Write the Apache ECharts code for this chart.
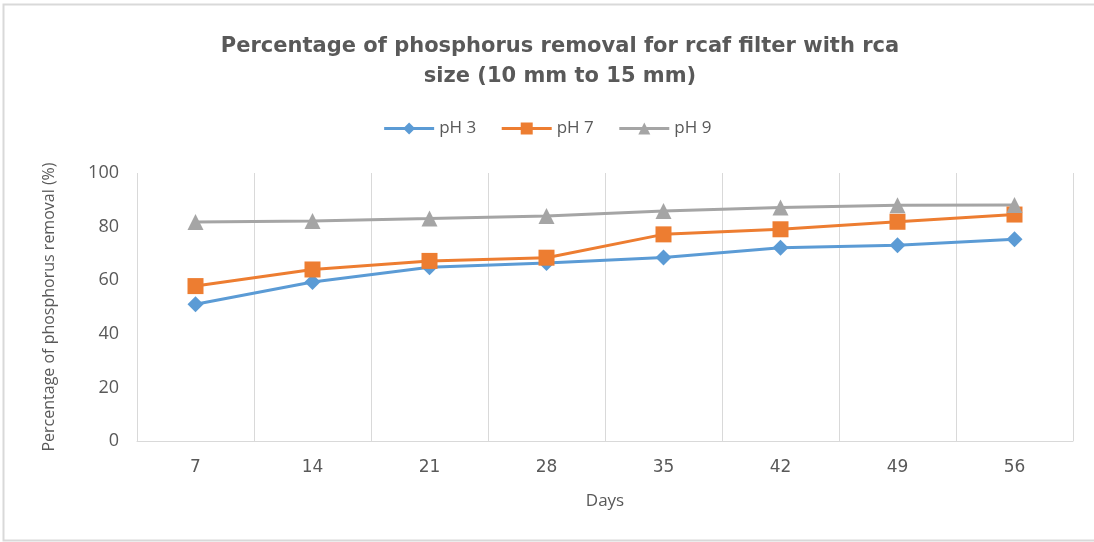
<!DOCTYPE html>
<html>
<head>
<meta charset="utf-8">
<script src="https://cdn.jsdelivr.net/npm/echarts@6/dist/echarts.min.js"></script>
<style>
  html, body { margin: 0; padding: 0; background: #fff; }
  #chart { width: 1094px; height: 542px; }
</style>
</head>
<body>
<div id="chart"></div>
<script>
const days = ['7', '14', '21', '28', '35', '42', '49', '56'];
const ph3 = [51.0, 59.3, 64.8, 66.4, 68.5, 72.1, 73.0, 75.3];
const ph7 = [57.8, 64.0, 67.2, 68.4, 77.1, 79.0, 81.8, 84.5];
const ph9 = [81.7, 82.1, 83.0, 84.0, 85.8, 87.1, 88.0, 88.1];
const yTicks = { min: 0, max: 100, interval: 20 };

const textColor = '#595959';
const gridColor = '#d9d9d9';

const chart = echarts.init(document.getElementById('chart'));

const lineSeries = (name, data, color, symbol, size) => ({
  type: 'line',
  name,
  data,
  symbol,
  symbolSize: size,
  showAllSymbol: true,
  lineStyle: { color, width: 3 },
  itemStyle: { color },
  emphasis: { disabled: true },
  animation: false
});

chart.setOption({
  backgroundColor: '#fff',
  title: {
    text: 'Percentage of phosphorus removal for rcaf filter with rca\nsize (10 mm to 15 mm)',
    left: 555,
    top: 27,
    textAlign: 'center',
    textStyle: {
      fontFamily: 'DejaVu Sans',
      fontWeight: 'bold',
      fontSize: 21,
      color: textColor,
      lineHeight: 30
    }
  },
  legend: {
    top: 115,
    left: 'center',
    itemWidth: 50,
    itemHeight: 15,
    itemGap: 24,
    lineStyle: { width: 3 },
    textStyle: { fontFamily: 'Open Sans', fontSize: 17, color: textColor },
    data: ['pH 3', 'pH 7', 'pH 9']
  },
  grid: { left: 137, right: 21, top: 173, bottom: 101 },
  xAxis: {
    type: 'category',
    data: days,
    boundaryGap: true,
    name: 'Days',
    nameLocation: 'middle',
    nameGap: 52,
    nameTextStyle: { fontFamily: 'Open Sans', fontSize: 17, color: textColor },
    axisLine: { show: true, lineStyle: { color: gridColor, width: 1 } },
    axisTick: { show: false },
    axisLabel: { margin: 18, fontFamily: 'DejaVu Sans', fontSize: 17, color: textColor },
    splitLine: { show: true, lineStyle: { color: gridColor, width: 1 } }
  },
  yAxis: {
    type: 'value',
    min: yTicks.min,
    max: yTicks.max,
    interval: yTicks.interval,
    name: 'Percentage of phosphorus removal (%)',
    nameLocation: 'middle',
    nameGap: 80,
    nameTextStyle: { fontFamily: 'Open Sans', fontSize: 16, color: textColor },
    axisLine: { show: false },
    axisTick: { show: false },
    axisLabel: { margin: 18, fontFamily: 'Open Sans', fontSize: 18, color: textColor },
    splitLine: { show: false }
  },
  graphic: [{
    type: 'rect',
    shape: { x: 3.5, y: 4.5, width: 1100, height: 536 },
    style: { fill: 'none', stroke: '#d9d9d9', lineWidth: 2 },
    silent: true
  }],
  series: [
    lineSeries('pH 3', ph3, '#5b9bd5', 'diamond', 16),
    lineSeries('pH 7', ph7, '#ed7d31', 'rect', 16),
    lineSeries('pH 9', ph9, '#a5a5a5', 'triangle', 16)
  ]
});
</script>
</body>
</html>
